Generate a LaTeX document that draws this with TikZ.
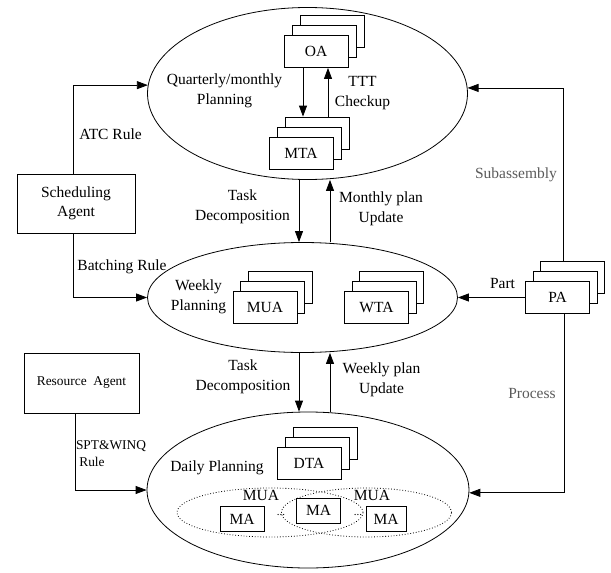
\documentclass[tikz,border=0pt]{standalone}
\usepackage{fontspec}
\setmainfont{Liberation Serif}
\usepackage{tikz}
\usetikzlibrary{shapes.geometric,arrows.meta}
\definecolor{labelgray}{RGB}{90,90,90}

\begin{document}
\begin{tikzpicture}[x=1pt, y=-1pt,
    line width=0.8pt,
    font=\fontsize{15.5}{19.5}\selectfont,
    >={Triangle[length=11pt,width=8pt]},
    level/.style={draw, ellipse, inner sep=0pt},
    agent/.style={draw, fill=white, minimum width=64pt, minimum height=32pt, inner sep=0pt},
    rulebox/.style={draw, minimum width=118pt, minimum height=59pt, align=center},
    ma/.style={draw, fill=white, minimum width=44pt, minimum height=25pt, inner sep=0pt},
    group/.style={draw, ellipse, dotted, inner sep=0pt},
    lbl/.style={align=center, inner sep=0pt},
    greylbl/.style={lbl, text=labelgray},
    dotlbl/.style={lbl, font=\fontsize{11}{11}\selectfont}
]
\useasboundingbox (0,0) rectangle (611,573);

\node[level, minimum width=320pt, minimum height=172pt] (quarter) at (307.5,93.5) {};
\node[level, minimum width=310pt, minimum height=110pt] (weekly) at (302.5,297.5) {};
\node[level, minimum width=322pt, minimum height=156pt] (daily) at (308,490) {};

\node[lbl] (quartertitle) at (224.5,91) {Quarterly/monthly\\Planning};
\node[lbl] (weeklytitle) at (198.5,297) {Weekly\\Planning};
\node[lbl] (dailytitle) at (217,468) {Daily Planning};

% quarterly level
\node[agent] (oa3) at (332,31.5) {};
\node[agent] (oa2) at (324,41.5) {};
\node[agent] (oa) at (316,51.5) {OA};

\node[agent] (mta3) at (317,133) {};
\node[agent] (mta2) at (309,143) {};
\node[agent] (mta) at (301,153) {MTA};

\draw[->] ([xshift=-13pt]oa.south) -- ([xshift=-13pt]oa.south |- mta3.north);
\draw[->] ([xshift=12pt]oa.south |- mta3.north) -- ([xshift=12pt]oa.south);
\node[lbl] (ttt) at (362.5,93) {TTT\\Checkup};

% weekly level
\node[agent] (mua3) at (280,287.5) {};
\node[agent] (mua2) at (272.5,297.5) {};
\node[agent] (mua) at (265,307.5) {MUA};

\node[agent] (wta3) at (391.5,287.5) {};
\node[agent] (wta2) at (384,297.5) {};
\node[agent] (wta) at (376.5,307.5) {WTA};

% daily level
\node[agent] (dta3) at (325,443) {};
\node[agent] (dta2) at (317,453) {};
\node[agent] (dta) at (309,463) {DTA};

\node[group, minimum width=186pt, minimum height=49pt] (group1) at (270,512.5) {};
\node[group, minimum width=170pt, minimum height=49pt] (group2) at (366.5,512.5) {};
\node[lbl] (mualeft) at (261,495) {MUA};
\node[lbl] (muaright) at (372,495) {MUA};
\node[ma] (ma1) at (242,519) {MA};
\node[ma] (ma2) at (318.5,510.5) {MA};
\node[ma, minimum width=40pt] (ma3) at (386,519) {MA};
\node[dotlbl] (dots1) at (281,515) {...};
\node[dotlbl] (dots2) at (358,515) {...};

% between levels
\draw[->] ([xshift=-8.5pt]quarter.south) -- ([xshift=-8.5pt]quarter.south |- weekly.north);
\draw[->] ([xshift=22.5pt]quarter.south |- weekly.north) -- ([xshift=22.5pt]quarter.south);
\node[lbl] (td1) at (242.5,207) {Task\\Decomposition};
\node[lbl] (mupd) at (381,209) {Monthly plan\\Update};

\draw[->] ([xshift=-3.5pt]weekly.south) -- ([xshift=-3.5pt]weekly.south |- daily.north);
\draw[->] ([xshift=27.5pt]weekly.south |- daily.north) -- ([xshift=27.5pt]weekly.south);
\node[lbl] (td2) at (243,377) {Task\\Decomposition};
\node[lbl] (wupd) at (381.5,380) {Weekly plan\\Update};

% scheduling agent
\node[rulebox] (sched) at (76,203.5) {Scheduling\\Agent};
\draw[->] ([xshift=-3pt]sched.north) |- (quarter.177);
\draw[->] ([xshift=-3pt]sched.south) |- (weekly.west);
\node[lbl] (atc) at (110.5,134) {ATC Rule};
\node[lbl] (batch) at (122,267) {Batching Rule};

% resource agent
\node[rulebox, minimum width=115pt, minimum height=60pt, font=\fontsize{13.4}{17}\selectfont] (res) at (81.5,383) {Resource\ \ Agent};
\draw[->] ([xshift=-6.5pt]res.south) |- (daily.west);
\node[lbl, align=left, font=\fontsize{13.4}{17}\selectfont] (spt) at (111,453.5) {SPT\&WINQ\\\ Rule};

% part agent
\node[agent] (pa3) at (572.5,277.5) {};
\node[agent] (pa2) at (565,287.5) {};
\node[agent] (pa) at (557.5,297.5) {PA};
\draw[->] ([xshift=-9.5pt]pa3.north) |- (quarter.2);
\draw[->] (pa.west) -- (weekly.east);
\draw[->] ([xshift=6.5pt]pa.south) |- (daily.-1);
\node[greylbl] (subasm) at (516,175) {Subassembly};
\node[lbl] (part) at (502.5,283) {Part};
\node[greylbl] (proc) at (532,393) {Process};

\end{tikzpicture}
\end{document}
